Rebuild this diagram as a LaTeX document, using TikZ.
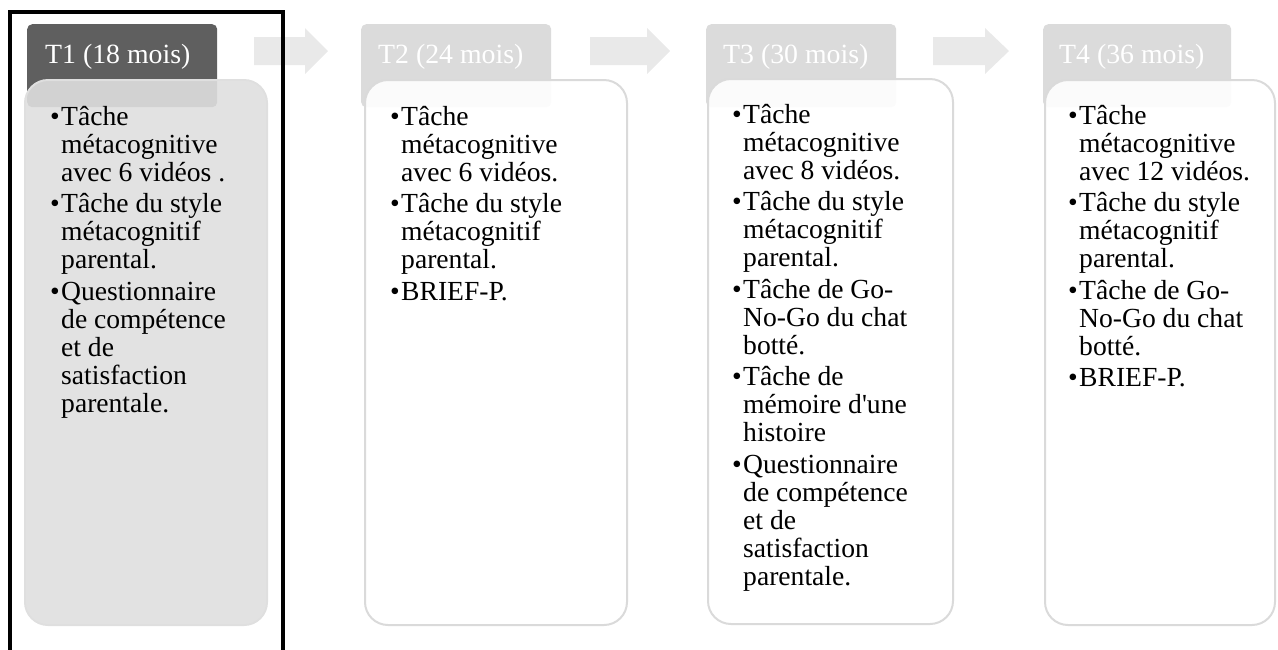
\documentclass[tikz,border=0pt]{standalone}
\usepackage{fontspec}
\setmainfont{Liberation Serif}
\usetikzlibrary{positioning}

\definecolor{headdark}{HTML}{5F5F5F}
\definecolor{headlight}{HTML}{DBDBDB}
\definecolor{bodygrey}{HTML}{DFDFDF}
\definecolor{bodyline}{HTML}{DADADA}
\definecolor{arrowgrey}{HTML}{E9E9E9}

% one bullet item, hanging indent
\newcommand{\puce}[1]{\par\noindent\hangindent=11pt\hangafter=1\makebox[11pt][l]{\textbullet}#1}
\newcommand{\colonne}[1]{\begin{minipage}[t]{230pt}\raggedright
  \fontsize{27.6pt}{28pt}\selectfont\setlength{\parskip}{3.5pt}#1\end{minipage}}

\tikzset{
  header/.style={rectangle, rounded corners=5pt, inner sep=0pt, anchor=north west,
    minimum width=190pt, minimum height=83pt},
  body/.style={rectangle, rounded corners=23pt, inner sep=0pt, anchor=north west,
    fill opacity=0.9, line width=2pt, minimum height=545pt},
  headtext/.style={anchor=base west, inner sep=0pt, text=white,
    font=\fontsize{27.8pt}{30pt}\selectfont},
  bodytext/.style={anchor=base west, inner sep=0pt},
}

\begin{document}
\begin{tikzpicture}[x=1pt, y=-1pt]
    \useasboundingbox (0,0) rectangle (1278,649);

    % Arrows
    \foreach \xa/\xh/\xt in {254/305/328, 590/647/670, 933/985/1009}{
      \fill[arrowgrey] (\xa,37) -- (\xh,37) -- (\xh,28) -- (\xt,51)
        -- (\xh,74) -- (\xh,65) -- (\xa,65) -- cycle;
    }

    % Headers
    \node[header, fill=headdark] (h1) at (27,24) {};
    \node[header, fill=headlight] (h2) at (361,24) {};
    \node[header, fill=headlight] (h3) at (706,24) {};
    \node[header, fill=headlight, minimum width=188pt] (h4) at (1043,24) {};

    % Bodies
    \node[body, fill=bodygrey, draw=bodygrey, minimum width=242pt, minimum height=545pt] (b1) at (24,79) {};
    \node[body, fill=white, draw=bodyline, minimum width=262pt] (b2) at (364,79) {};
    \node[body, fill=white, draw=bodyline, minimum width=245pt] (b3) at (707,78) {};
    \node[body, fill=white, draw=bodyline, minimum width=230pt] (b4) at (1044,79) {};

    % Header labels
    \node[headtext] (t1) at ([xshift=18pt, yshift=-39pt]h1.north west) {T1 (18 mois)};
    \node[headtext] (t2) at ([xshift=17pt, yshift=-39pt]h2.north west) {T2 (24 mois)};
    \node[headtext] (t3) at ([xshift=17pt, yshift=-39pt]h3.north west) {T3 (30 mois)};
    \node[headtext] (t4) at ([xshift=16pt, yshift=-39pt]h4.north west) {T4 (36 mois)};

    % Tasks
    \node[bodytext] (l1) at ([xshift=26pt, yshift=-46pt]b1.north west) {\colonne{%
      \puce{Tâche\newline métacognitive\newline avec 6 vidéos .}
      \puce{Tâche du style\newline métacognitif\newline parental.}
      \puce{Questionnaire\newline de compétence\newline et de\newline satisfaction\newline parentale.}}};
    \node[bodytext] (l2) at ([xshift=26pt, yshift=-46pt]b2.north west) {\colonne{%
      \puce{Tâche\newline métacognitive\newline avec 6 vidéos.}
      \puce{Tâche du style\newline métacognitif\newline parental.}
      \puce{BRIEF-P.}}};
    \node[bodytext] (l3) at ([xshift=25pt, yshift=-45pt]b3.north west) {\colonne{%
      \puce{Tâche\newline métacognitive\newline avec 8 vidéos.}
      \puce{Tâche du style\newline métacognitif\newline parental.}
      \puce{Tâche de Go-\newline No-Go du chat\newline botté.}
      \puce{Tâche de\newline mémoire d\textquotesingle une\newline histoire}
      \puce{Questionnaire\newline de compétence\newline et de\newline satisfaction\newline parentale.}}};
    \node[bodytext] (l4) at ([xshift=24pt, yshift=-45pt]b4.north west) {\colonne{%
      \puce{Tâche\newline métacognitive\newline avec 12 vidéos.}
      \puce{Tâche du style\newline métacognitif\newline parental.}
      \puce{Tâche de Go-\newline No-Go du chat\newline botté.}
      \puce{BRIEF-P.}}};

    % Frame round T1
    \draw[line width=3.8pt] (10,660) -- (10,11.7) -- (283.3,11.7) -- (283.3,660);
\end{tikzpicture}
\end{document}
